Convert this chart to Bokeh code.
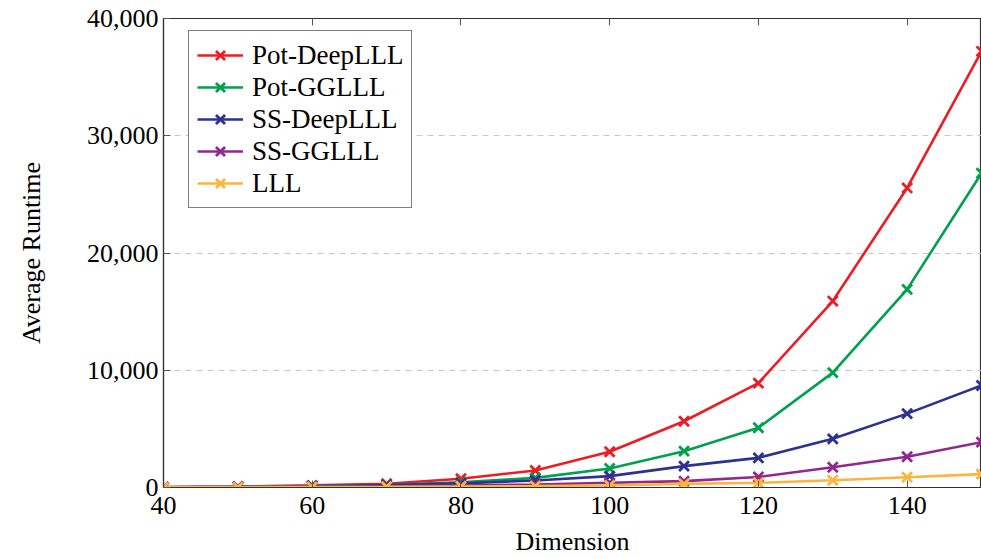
from bokeh.plotting import figure
from bokeh.models import (FixedTicker, NumeralTickFormatter, LinearAxis, Range1d,
                          Legend)
from bokeh.embed import file_html
from bokeh.resources import INLINE

# Average runtime per lattice dimension for each reduction variant
dims = [40, 50, 60, 70, 80, 90, 100, 110, 120, 130, 140, 150]
pot_deeplll = [30, 80, 180, 320, 750, 1450, 3050, 5650, 8900, 15900, 25550, 37200]
pot_gglll = [25, 60, 120, 240, 450, 820, 1620, 3100, 5100, 9800, 16900, 26800]
ss_deeplll = [25, 55, 110, 200, 350, 600, 970, 1820, 2530, 4150, 6300, 8700]
ss_gglll = [20, 40, 70, 110, 170, 260, 400, 540, 900, 1730, 2620, 3870]
lll = [15, 25, 40, 60, 90, 120, 170, 310, 400, 620, 880, 1140]

series_names = ["Pot-DeepLLL", "Pot-GGLLL", "SS-DeepLLL", "SS-GGLLL", "LLL"]
series_values = [pot_deeplll, pot_gglll, ss_deeplll, ss_gglll, lll]
series_colors = ["#ED1C24", "#00A04F", "#2E3192", "#92278F", "#FDB43C"]

x_ticks = [40, 60, 80, 100, 120, 140]
y_ticks = [0, 10000, 20000, 30000, 40000]

FONT = "Liberation Serif"
FS = "26px"

p = figure(width=981, height=558, output_backend="svg", toolbar_location=None,
           x_range=Range1d(40, 150), y_range=Range1d(0, 40000),
           min_border_left=163, min_border_right=0, min_border_top=18,
           min_border_bottom=70)
p.background_fill_color = "white"
p.border_fill_color = "white"
p.outline_line_color = "#333333"
p.outline_line_width = 1.2

# grid: dashed horizontal lines only
p.xgrid.grid_line_color = None
p.ygrid.grid_line_color = "#c8c8c8"
p.ygrid.grid_line_dash = "6 5"
p.ygrid.grid_line_width = 1.2
p.ygrid.ticker = FixedTicker(ticks=y_ticks)

# bottom axis
xa = p.xaxis[0]
xa.ticker = FixedTicker(ticks=x_ticks)
xa.axis_label = "Dimension"

# left axis
ya = p.yaxis[0]
ya.ticker = FixedTicker(ticks=y_ticks)
ya.formatter = NumeralTickFormatter(format="0,0")
ya.axis_label = "Average Runtime"

for ax in (xa, ya):
    ax.axis_line_color = "#333333"
    ax.axis_line_width = 1.2
    ax.major_tick_in = 7
    ax.major_tick_out = 0
    ax.major_tick_line_color = "#555555"
    ax.minor_tick_line_color = None
    ax.major_label_text_font = FONT
    ax.major_label_text_font_size = FS
    ax.major_label_text_color = "black"
    ax.axis_label_text_font = FONT
    ax.axis_label_text_font_size = FS
    ax.axis_label_text_font_style = "normal"
    ax.axis_label_text_color = "black"

xa.major_label_standoff = 9
xa.axis_label_standoff = 10
ya.major_label_standoff = 5
ya.axis_label_standoff = 38

# top axis: tick marks only
top = LinearAxis(ticker=FixedTicker(ticks=x_ticks),
                 major_label_overrides={t: "" for t in x_ticks},
                 axis_line_color="#333333", major_tick_in=7, major_tick_out=0,
                 major_tick_line_color="#555555", minor_tick_line_color=None)
p.add_layout(top, "above")

items = []
for name, vals, col in zip(series_names, series_values, series_colors):
    ln = p.line(dims, vals, line_color=col, line_width=2.6)
    mk = p.scatter(dims, vals, marker="x", size=14, line_color=col, line_width=2.8)
    items.append((name, [ln, mk]))

legend = Legend(items=items, location=(25, 279))
legend.label_text_font = FONT
legend.label_text_font_size = "27px"
legend.label_text_color = "black"
legend.glyph_width = 46
legend.glyph_height = 32
legend.label_height = 32
legend.label_standoff = 9
legend.spacing = 0
legend.padding = 8
legend.margin = 0
legend.border_line_color = "black"
legend.border_line_width = 1
legend.background_fill_alpha = 1
p.add_layout(legend, "center")

open("out.html", "w").write(file_html(p, INLINE))
